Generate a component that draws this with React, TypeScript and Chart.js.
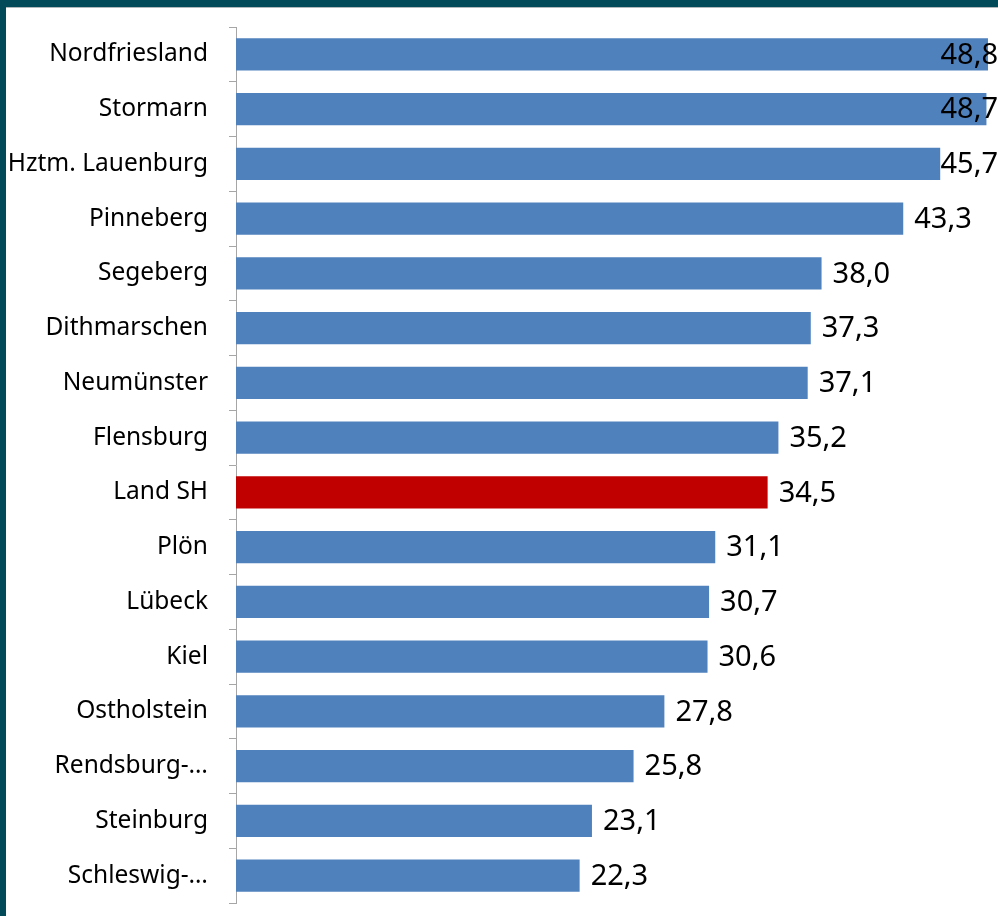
import React, { useEffect, useRef } from "react";
import { Chart, registerables } from "chart.js";

Chart.register(...registerables);

const categories = [
  "Nordfriesland",
  "Stormarn",
  "Hztm. Lauenburg",
  "Pinneberg",
  "Segeberg",
  "Dithmarschen",
  "Neumünster",
  "Flensburg",
  "Land SH",
  "Plön",
  "Lübeck",
  "Kiel",
  "Ostholstein",
  "Rendsburg-…",
  "Steinburg",
  "Schleswig-…",
];

const values = [48.8, 48.7, 45.7, 43.3, 38.0, 37.3, 37.1, 35.2, 34.5, 31.1, 30.7, 30.6, 27.8, 25.8, 23.1, 22.3];

const highlightCategory = "Land SH";

const W = 998;
const H = 916;

const frameAndLabels = {
  id: "frameAndLabels",
  beforeDraw(chart: any) {
    const ctx = chart.ctx;
    ctx.save();
    ctx.fillStyle = "#ffffff";
    ctx.fillRect(0, 0, chart.width, chart.height);
    ctx.restore();
  },
  afterDatasetsDraw(chart: any) {
    const ctx = chart.ctx;
    const meta = chart.getDatasetMeta(0);
    ctx.save();
    ctx.font = '29px "Noto Sans"';
    ctx.fillStyle = "#000000";
    ctx.textBaseline = "middle";
    ctx.textAlign = "left";
    meta.data.forEach((bar: any, i: number) => {
      const txt = values[i].toFixed(1).replace(".", ",");
      const w = ctx.measureText(txt).width;
      const x = Math.min(bar.x + 11, chart.width - w);
      ctx.fillText(txt, x, bar.y + 1);
    });
    ctx.restore();
  },
  afterDraw(chart: any) {
    const ctx = chart.ctx;
    ctx.save();
    ctx.fillStyle = "#024a5a";
    ctx.fillRect(0, 0, chart.width, 7);
    ctx.fillRect(0, 0, 6, chart.height);
    ctx.fillStyle = "#b0b8bb";
    ctx.fillRect(6, 7, chart.width - 6, 1);
    ctx.restore();
  },
};

export default function App() {
  const ref = useRef<HTMLCanvasElement | null>(null);
  useEffect(() => {
    if (!ref.current) return;
    const chart = new Chart(ref.current, {
      type: "bar",
      data: {
        labels: categories,
        datasets: [
          {
            data: values,
            backgroundColor: categories.map((c) => (c === highlightCategory ? "#c00000" : "#4f81bd")),
            borderWidth: 0,
            categoryPercentage: 1,
            barPercentage: 0.585,
          },
        ],
      },
      options: {
        indexAxis: "y",
        animation: false,
        responsive: false,
        devicePixelRatio: 1,
        layout: { padding: { top: 27, bottom: 13, left: 0, right: 0 } },
        plugins: {
          legend: { display: false },
          tooltip: { enabled: false },
          title: { display: false },
        },
        scales: {
          x: {
            display: false,
            min: 0,
            max: 49.45,
          },
          y: {
            afterFit(scale: any) {
              scale.width = 236;
              scale.paddingTop = 0;
              scale.paddingBottom = 0;
            },
            grid: {
              offset: true,
              drawOnChartArea: false,
              drawTicks: true,
              tickLength: 7,
              color: "#a6a6a6",
              lineWidth: 1,
            },
            border: { display: true, color: "#a6a6a6", width: 1 },
            ticks: {
              padding: 21,
              color: "#000000",
              font: { family: '"Noto Sans"', size: 24.5 },
            },
          },
        },
      },
      plugins: [frameAndLabels],
    });
    return () => chart.destroy();
  }, []);
  return (
    <div style={{ position: "fixed", left: 0, top: 0, width: W, height: H, overflow: "hidden" }}>
      <canvas ref={ref} width={W} height={H} style={{ display: "block", width: W, height: H }} />
    </div>
  );
}
